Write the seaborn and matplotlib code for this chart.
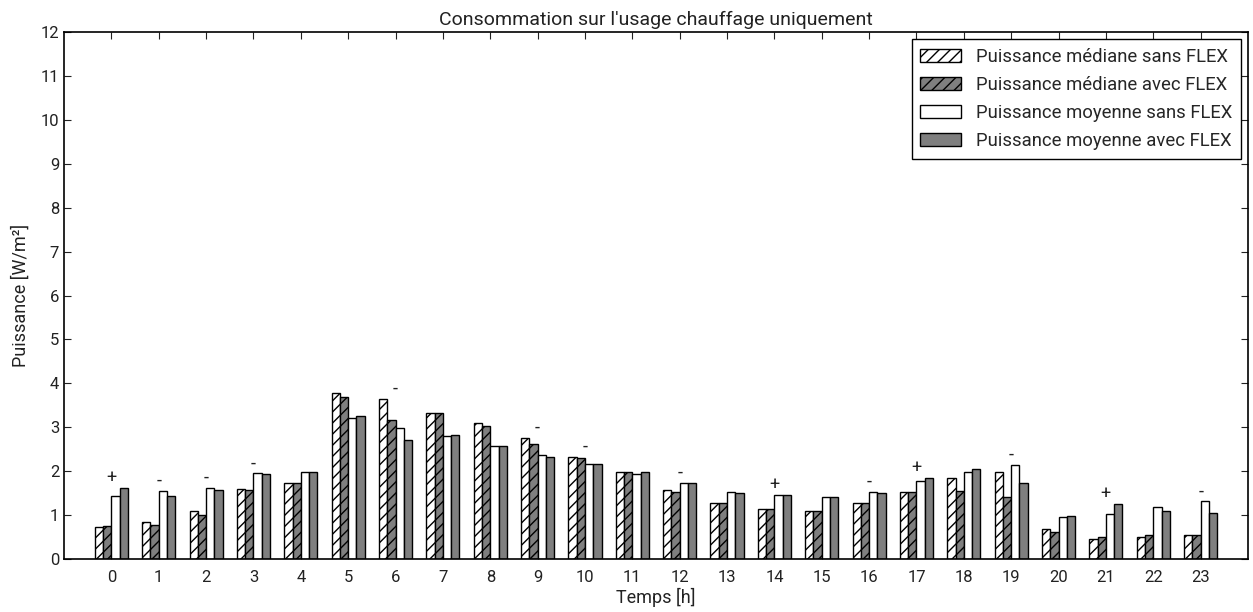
import numpy as np
import pandas as pd
import matplotlib
matplotlib.use("Agg")
import matplotlib.pyplot as plt
import seaborn as sns

hours = list(range(24))
median_sans = [0.72, 0.84, 1.09, 1.59, 1.72, 3.79, 3.65, 3.33, 3.10, 2.76, 2.32, 1.97,
               1.56, 1.27, 1.14, 1.09, 1.28, 1.53, 1.85, 1.99, 0.68, 0.46, 0.49, 0.55]
median_avec = [0.75, 0.77, 1.01, 1.58, 1.72, 3.68, 3.17, 3.33, 3.03, 2.62, 2.29, 1.97,
               1.53, 1.27, 1.14, 1.09, 1.27, 1.53, 1.55, 1.42, 0.61, 0.49, 0.54, 0.55]
mean_sans = [1.44, 1.55, 1.62, 1.95, 1.98, 3.20, 2.98, 2.81, 2.57, 2.37, 2.16, 1.94,
             1.74, 1.52, 1.46, 1.41, 1.53, 1.78, 1.99, 2.15, 0.95, 1.02, 1.19, 1.31]
mean_avec = [1.62, 1.43, 1.58, 1.93, 1.97, 3.26, 2.70, 2.82, 2.58, 2.33, 2.16, 1.97,
             1.72, 1.50, 1.46, 1.42, 1.50, 1.85, 2.04, 1.72, 0.98, 1.25, 1.10, 1.04]
signs = ['+', '-', '-', '-', '', '', '-', '', '', '-', '-', '',
         '-', '', '+', '', '-', '+', '', '-', '', '+', '', '-']

series_names = ["Puissance médiane sans FLEX", "Puissance médiane avec FLEX",
                "Puissance moyenne sans FLEX", "Puissance moyenne avec FLEX"]
series_values = [median_sans, median_avec, mean_sans, mean_avec]

rows = []
for name, vals in zip(series_names, series_values):
    for h, v in zip(hours, vals):
        rows.append({"Temps": h, "Puissance": v, "Série": name})
df = pd.DataFrame(rows)

sns.set_style("ticks")
plt.rcParams['font.family'] = ['Roboto', 'DejaVu Sans']
plt.rcParams['hatch.linewidth'] = 1.0

fig, ax = plt.subplots(figsize=(12.53, 6.12), dpi=100)
fig.subplots_adjust(left=0.0511, right=0.9960, top=0.9477, bottom=0.0866)

colors = ["white", "#7f7f7f", "white", "#7f7f7f"]
hatches = ["///", "///", "", ""]
sns.barplot(data=df, x="Temps", y="Puissance", hue="Série", hue_order=series_names,
            palette=colors, width=0.7, gap=0, saturation=1, ax=ax,
            edgecolor="black", linewidth=1.0, errorbar=None)

for cont, hatch in zip(ax.containers, hatches):
    for p in cont:
        p.set_hatch(hatch)
        p.set_edgecolor("black")

# significance markers
for h, s in zip(hours, signs):
    if s:
        top = max(median_sans[h], median_avec[h], mean_sans[h], mean_avec[h])
        ax.text(h, top + 0.23, s, ha='center', va='center', fontsize=13, color='#222222')

ax.set_xlim(-1, 24)
ax.set_ylim(0, 12)
ax.set_yticks(range(0, 13))
ax.set_xticks(hours)
ax.set_xticklabels([str(h) for h in hours])
ax.tick_params(direction='in', top=True, right=True, length=5, width=0.8,
               labelsize=12, colors='#222222')
ax.tick_params(axis='x', pad=8)
for sp in ax.spines.values():
    sp.set_visible(True)
    sp.set_linewidth(1.2)
    sp.set_color('black')

ax.set_title("Consommation sur l'usage chauffage uniquement", fontsize=14, pad=5, color='#222222')
ax.set_xlabel("Temps [h]", fontsize=13, color='#222222', labelpad=2)
ax.set_ylabel("Puissance [W/m²]", fontsize=13, color='#222222', labelpad=8)

leg = ax.legend(loc='upper right', fontsize=13.3, frameon=True, fancybox=False,
                edgecolor='black', framealpha=1, handlelength=2.2, handletextpad=0.8,
                borderpad=0.45, labelspacing=0.55, borderaxespad=0.4)
leg.get_frame().set_linewidth(1.0)
for hnd, hatch in zip(leg.legend_handles, hatches):
    hnd.set_hatch(hatch)
    hnd.set_edgecolor("black")

fig.savefig("out.png", dpi=100)
